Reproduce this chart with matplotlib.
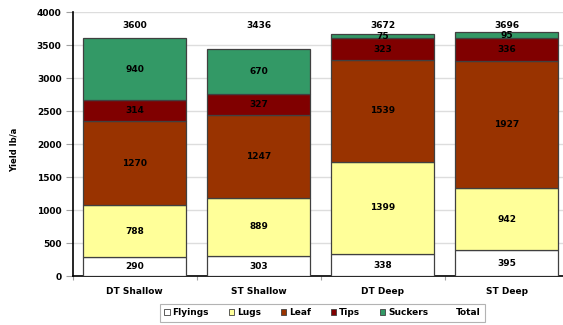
import matplotlib
matplotlib.use("Agg")
import matplotlib.pyplot as plt
from matplotlib.patches import Patch
import numpy as np

categories = ["DT Shallow", "ST Shallow", "DT Deep", "ST Deep"]
flyings = [290, 303, 338, 395]
lugs = [788, 889, 1399, 942]
leaf = [1270, 1247, 1539, 1927]
tips = [314, 327, 323, 336]
suckers = [940, 670, 75, 95]
totals = [3600, 3436, 3672, 3696]

series = [("Flyings", flyings, "#FFFFFF"),
          ("Lugs", lugs, "#FFFF99"),
          ("Leaf", leaf, "#993300"),
          ("Tips", tips, "#800000"),
          ("Suckers", suckers, "#339966")]

plt.rcParams['font.family'] = ['DejaVu Sans']
fig = plt.figure(figsize=(5.63, 3.25), dpi=100)
ax = fig.add_axes([72.7/563, 1-276.3/325, 496/563, (276.3-12)/325])

x = np.arange(len(categories))
bottom = np.zeros(len(categories))
for name, vals, col in series:
    vals = np.array(vals, dtype=float)
    bars = ax.bar(x, vals, 0.83, bottom=bottom, color=col, edgecolor="#404040",
                  linewidth=0.9, zorder=3)
    for xi, b, v in zip(x, bottom, vals):
        ax.text(xi, b + v/2, f"{int(v)}", ha="center", va="center",
                fontsize=6.5, fontweight="bold", color="black", zorder=4)
    bottom += vals

for xi, t in zip(x, totals):
    ax.text(xi, 3800, f"{t}", ha="center", va="center", fontsize=6.5,
            fontweight="bold", color="black", zorder=4)

ax.set_xlim(-0.5, 3.5)
ax.set_ylim(0, 4000)
ax.set_yticks(np.arange(0, 4001, 500))
ax.set_xticks(x)
ax.set_xticklabels(categories, fontsize=6.5, fontweight="bold")
ax.set_xticks(np.arange(-0.5, 3.0, 1.0), minor=True)
ax.tick_params(axis="x", which="major", length=0, pad=8)
ax.tick_params(axis="x", which="minor", length=3, color="#A0A0A0", width=0.8)
ax.tick_params(axis="y", length=5, color="#A0A0A0", width=0.8, labelsize=6.5, pad=3)
for lab in ax.get_yticklabels():
    lab.set_fontweight("bold")
ax.yaxis.grid(True, color="#DDDDDD", linewidth=1, zorder=0)
ax.set_axisbelow(True)
for s in ["top", "right"]:
    ax.spines[s].set_visible(False)
ax.spines["left"].set_linewidth(1.2)
ax.spines["bottom"].set_linewidth(1.2)
fig.text(14/563, 1-150/325, "Yield lb/a", rotation=90, ha="center", va="center",
         fontsize=6, fontweight="bold")

handles = [Patch(facecolor=c, edgecolor="#404040", linewidth=0.6) for _, _, c in series]
handles.append(Patch(facecolor="none", edgecolor="none"))
labels = [n for n, _, _ in series] + ["Total"]
leg = fig.legend(handles, labels, loc="center", bbox_to_anchor=(0.573, 0.038), ncol=6,
                 fontsize=6.5, frameon=True, fancybox=False, edgecolor="#A0A0A0",
                 handlelength=0.6, handleheight=0.6, handletextpad=0.3,
                 columnspacing=2.2, borderpad=0.5)
leg.get_frame().set_linewidth(0.8)
for t in leg.get_texts():
    t.set_fontweight("bold")

fig.savefig("out.png", dpi=100)
